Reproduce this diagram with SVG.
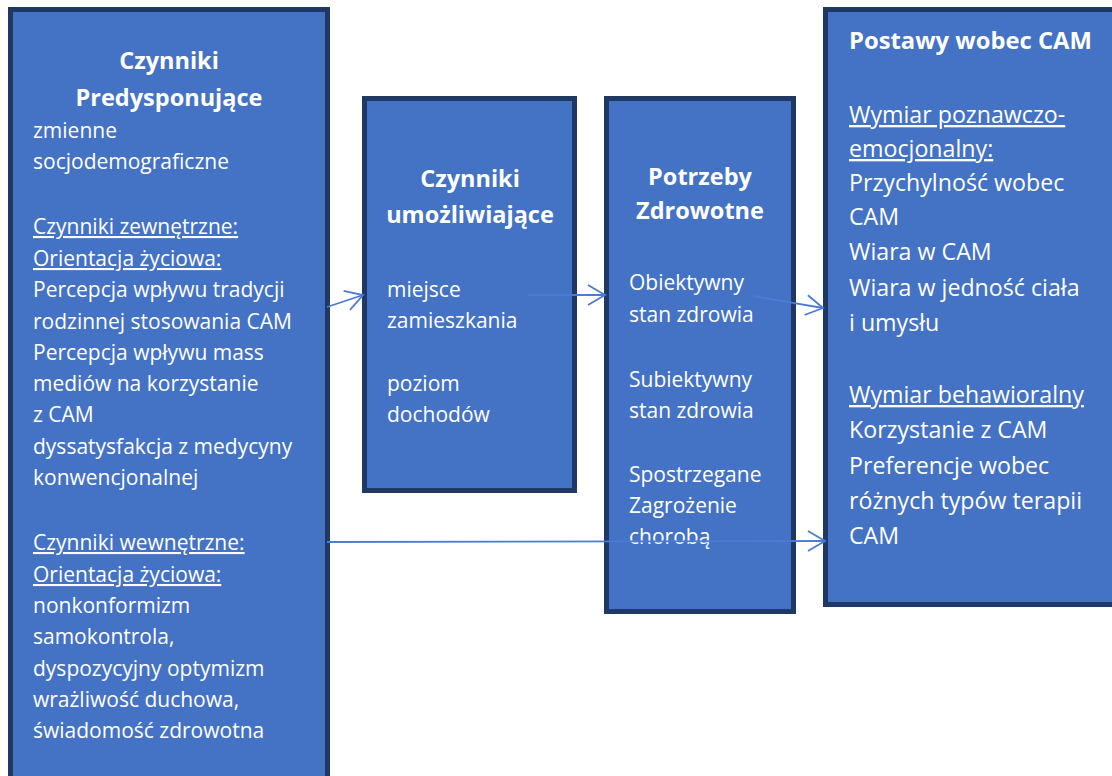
<svg xmlns="http://www.w3.org/2000/svg" width="1112" height="776" viewBox="0 0 1112 776">
  <style>
    .box { fill: #4472C4; stroke: #203864; stroke-width: 5; }
    .t { font-family: "Open Sans", "Noto Sans", sans-serif; fill: #FFFFFF; font-size: 21px; }
    .big { font-size: 23.2px; }
    .h { font-family: "Open Sans", "Noto Sans", sans-serif; fill: #FFFFFF; font-weight: bold; font-size: 23.5px; text-anchor: middle; }
    .hl { text-anchor: start; font-size: 23.8px; }
    .u { text-decoration: underline; }
    .conn { fill: none; stroke: #4B7CD3; stroke-width: 1.8; }
  </style>
  <defs>
    <marker id="open-arrow" markerUnits="userSpaceOnUse" markerWidth="22" markerHeight="24" refX="19" refY="11" orient="auto">
      <path d="M2,1 L19,11 L2,21" fill="none" stroke="#4B7CD3" stroke-width="1.8"/>
    </marker>
  </defs>

  <rect width="1112" height="776" fill="#FFFFFF"/>

  <!-- Predisposing factors -->
  <g id="czynniki-predysponujace">
    <rect class="box" x="10.5" y="9.5" width="317" height="800"/>
    <text class="h" x="169" y="69">Czynniki</text>
    <text class="h" x="169" y="106">Predysponujące</text>
    <text class="t" x="33" y="138">zmienne</text>
    <text class="t" x="33" y="169">socjodemograficzne</text>
    <text class="t u" x="33" y="234">Czynniki zewnętrzne:</text>
    <text class="t u" x="33" y="266">Orientacja życiowa:</text>
    <text class="t" x="33" y="297">Percepcja wpływu tradycji</text>
    <text class="t" x="33" y="329">rodzinnej stosowania CAM</text>
    <text class="t" x="33" y="360">Percepcja wpływu mass</text>
    <text class="t" x="33" y="391">mediów na korzystanie</text>
    <text class="t" x="33" y="422">z CAM</text>
    <text class="t" x="33" y="454">dyssatysfakcja z medycyny</text>
    <text class="t" x="33" y="485">konwencjonalnej</text>
    <text class="t u" x="33" y="550">Czynniki wewnętrzne:</text>
    <text class="t u" x="33" y="582">Orientacja życiowa:</text>
    <text class="t" x="33" y="613">nonkonformizm</text>
    <text class="t" x="33" y="644">samokontrola,</text>
    <text class="t" x="33" y="676">dyspozycyjny optymizm</text>
    <text class="t" x="33" y="707">wrażliwość duchowa,</text>
    <text class="t" x="33" y="738">świadomość zdrowotna</text>
  </g>

  <!-- Enabling factors -->
  <g id="czynniki-umozliwiajace">
    <rect class="box" x="364.5" y="98.5" width="210" height="392"/>
    <text class="h" x="470" y="187">Czynniki</text>
    <text class="h" x="470" y="223">umożliwiające</text>
    <text class="t" x="387" y="297">miejsce</text>
    <text class="t" x="387" y="328">zamieszkania</text>
    <text class="t" x="387" y="391">poziom</text>
    <text class="t" x="387" y="422">dochodów</text>
  </g>

  <!-- Health needs -->
  <g id="potrzeby-zdrowotne">
    <rect class="box" x="606.5" y="98.5" width="187" height="513"/>
    <text class="h" x="700" y="185">Potrzeby</text>
    <text class="h" x="700" y="219">Zdrowotne</text>
    <text class="t" x="629" y="290">Obiektywny</text>
    <text class="t" x="629" y="322">stan zdrowia</text>
    <text class="t" x="629" y="387">Subiektywny</text>
    <text class="t" x="629" y="418">stan zdrowia</text>
    <text class="t" x="629" y="482">Spostrzegane</text>
    <text class="t" x="629" y="513">Zagrożenie</text>
    <text class="t" x="629" y="544">chorobą</text>
  </g>

  <!-- Attitudes towards CAM -->
  <g id="postawy-wobec-cam">
    <rect class="box" x="825.5" y="9.5" width="300" height="595"/>
    <text class="h hl" x="849" y="49">Postawy wobec CAM</text>
    <text class="t big u" x="849" y="123">Wymiar poznawczo-</text>
    <text class="t big u" x="849" y="157">emocjonalny:</text>
    <text class="t big" x="849" y="191">Przychylność wobec</text>
    <text class="t big" x="849" y="225">CAM</text>
    <text class="t big" x="849" y="260">Wiara w CAM</text>
    <text class="t big" x="849" y="296">Wiara w jedność ciała</text>
    <text class="t big" x="849" y="331">i umysłu</text>
    <text class="t big u" x="849" y="403">Wymiar behawioralny</text>
    <text class="t big" x="849" y="438">Korzystanie z CAM</text>
    <text class="t big" x="849" y="474">Preferencje wobec</text>
    <text class="t big" x="849" y="509">różnych typów terapii</text>
    <text class="t big" x="849" y="544">CAM</text>
  </g>

  <!-- Connectors -->
  <g id="connectors">
    <path class="conn" d="M327,307 L363,295" marker-end="url(#open-arrow)"/>
    <path class="conn" d="M528,295 L605,295" marker-end="url(#open-arrow)"/>
    <path class="conn" d="M753,296 L823,308" marker-end="url(#open-arrow)"/>
    <path class="conn" d="M327,542 L825,541" marker-end="url(#open-arrow)"/>
  </g>
</svg>
